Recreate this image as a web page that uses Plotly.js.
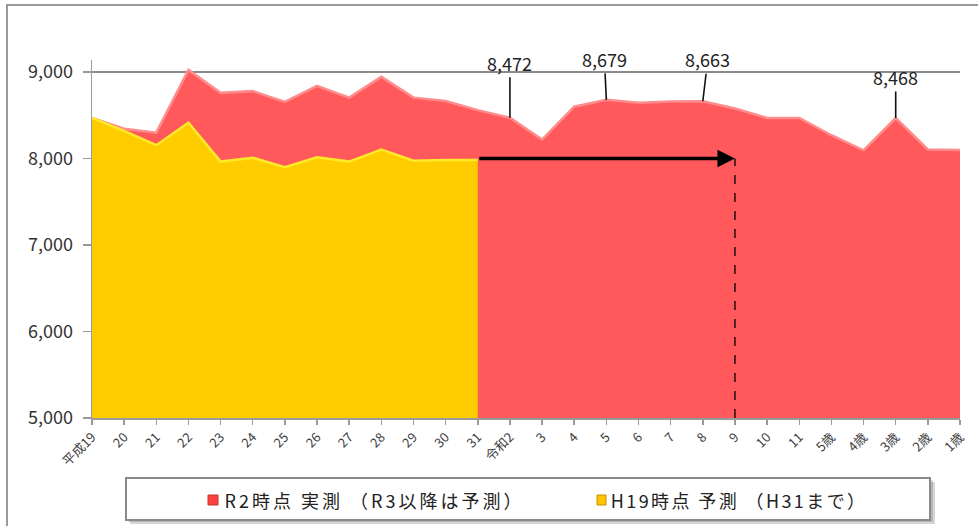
<!DOCTYPE html>
<html>
<head>
<meta charset="utf-8">
<script src="https://cdn.plot.ly/plotly-3.0.1.min.js"></script>
<style>
html,body{margin:0;padding:0;background:#fff;}
#wrap{position:relative;width:978px;height:526px;overflow:hidden;}
#chart{width:978px;height:526px;}
#frame{position:absolute;left:6px;top:4px;width:990px;height:540px;border-left:2px solid #9a9a9a;border-top:2px solid #9a9a9a;pointer-events:none;}
g.annotation[data-index="5"] text{letter-spacing:3px;}
g.annotation[data-index="6"] text{letter-spacing:2.4px;}
</style>
</head>
<body>
<div id="wrap"><div id="chart"></div><div id="frame"></div></div>
<script>
// ---- data ----
const categories = ["平成19","20","21","22","23","24","25","26","27","28","29","30","31",
  "令和2","3","4","5","6","7","8","9","10","11","5歳","4歳","3歳","2歳","1歳"];
const actualR2 = [8470,8345,8300,9025,8760,8780,8655,8840,8705,8945,8705,8665,8560,
  8472,8220,8600,8679,8645,8660,8663,8580,8470,8470,8270,8095,8468,8105,8100];
const forecastH19Cats = ["平成19","20","21","22","23","24","25","26","27","28","29","30","31"];
const forecastH19 = [8470,8320,8155,8415,7965,8010,7900,8015,7965,8105,7975,7985,7985];
const seriesNames = ["R2時点 実測\u00a0（R3以降は予測）","H19時点 予測\u00a0（H31まで）"];
const labelledCats = ["令和2","5","8","3歳"];
const yTicks = [5000,6000,7000,8000,9000];
const arrowFrom = "31", arrowTo = "9", arrowLevel = 8000;

// ---- layout helpers ----
const W = 978, H = 526, L = 92, R = 18, T = 60, B = 108;
const px2x = p => (p - L) / (W - L - R);
const px2y = p => (H - B - p) / (H - T - B);
const idx = c => categories.indexOf(c);

const RED = "#FF595B", RED_EDGE = "#FF8C8C";
const YEL = "#FFCC00", YEL_EDGE = "#FFEA2A";
const font = "'Noto Sans CJK JP','Noto Sans',sans-serif";

const traces = [
  {x: categories, y: actualR2, type: "scatter", mode: "lines", fill: "tozeroy",
   fillcolor: RED, line: {color: RED_EDGE, width: 2.5}, name: seriesNames[0],
   showlegend: false, hoverinfo: "skip"},
  {x: forecastH19Cats, y: forecastH19, type: "scatter", mode: "lines", fill: "tozeroy",
   fillcolor: YEL, line: {color: YEL_EDGE, width: 2.5}, name: seriesNames[1],
   showlegend: false, hoverinfo: "skip"}
];

// value labels with leader lines (x given as category index: labels like "5" would be read as indices)
const labelOffsets = {"令和2": [0,-55], "5": [-2,-41], "8": [5,-42], "3歳": [0,-41]};
const annotations = labelledCats.map(c => {
  const i = idx(c);
  const v = actualR2[i];
  return {x: i, y: v, xref: "x", yref: "y", text: v.toLocaleString("en-US"),
    showarrow: true, arrowhead: 0, arrowwidth: 1.6, arrowcolor: "#111",
    ax: labelOffsets[c][0], ay: labelOffsets[c][1], standoff: 0,
    font: {family: font, size: 18, color: "#222"}};
});

// horizontal arrow (index 4)
annotations.push({x: idx(arrowTo), y: arrowLevel, xref: "x", yref: "y",
  ax: idx(arrowFrom), ay: arrowLevel, axref: "x", ayref: "y", text: "",
  showarrow: true, arrowhead: 2, arrowsize: 1, arrowwidth: 3.5, arrowcolor: "#000", standoff: 0});

// custom legend text (index 5, 6)
annotations.push({xref: "paper", yref: "paper", x: px2x(374), y: px2y(500), xanchor: "center", yanchor: "middle",
  text: seriesNames[0], showarrow: false, font: {family: font, size: 18, color: "#222"}});
annotations.push({xref: "paper", yref: "paper", x: px2x(739), y: px2y(500), xanchor: "center", yanchor: "middle",
  text: seriesNames[1], showarrow: false, font: {family: font, size: 18, color: "#222"}});

const shapes = [
  // dashed drop line
  {type: "line", xref: "x", yref: "y", x0: idx(arrowTo), x1: idx(arrowTo), y0: 5000, y1: arrowLevel,
   line: {color: "#000", width: 1.3, dash: "dash"}},
  // legend shadow
  {type: "rect", xref: "paper", yref: "paper", x0: px2x(130), x1: px2x(935), y0: px2y(482), y1: px2y(524),
   line: {width: 0}, fillcolor: "rgba(0,0,0,0.16)", layer: "above"},
  {type: "rect", xref: "paper", yref: "paper", x0: px2x(128), x1: px2x(933), y0: px2y(480), y1: px2y(522),
   line: {width: 0}, fillcolor: "rgba(0,0,0,0.14)", layer: "above"},
  // legend box
  {type: "rect", xref: "paper", yref: "paper", x0: px2x(126), x1: px2x(930), y0: px2y(478), y1: px2y(520),
   line: {color: "#8a8a8a", width: 2}, fillcolor: "#fff", layer: "above"},
  // legend markers
  {type: "rect", xref: "paper", yref: "paper", x0: px2x(208), x1: px2x(218), y0: px2y(495), y1: px2y(505),
   line: {color: "#C0392B", width: 1}, fillcolor: "#FF4040", layer: "above"},
  {type: "rect", xref: "paper", yref: "paper", x0: px2x(597), x1: px2x(606), y0: px2y(495), y1: px2y(505),
   line: {color: "#C89200", width: 1}, fillcolor: "#FFC400", layer: "above"}
];

const layout = {
  width: W, height: H,
  margin: {l: L, r: R, t: T, b: B, pad: 0},
  paper_bgcolor: "#fff", plot_bgcolor: "#fff",
  showlegend: false,
  font: {family: font, color: "#333"},
  xaxis: {type: "category", categoryarray: categories, categoryorder: "array",
    range: [0, categories.length - 1], tickangle: -45,
    tickfont: {family: font, size: 13, color: "#404040"},
    showline: true, linecolor: "#9a9a9a", linewidth: 1.5,
    ticks: "outside", ticklen: 5, tickcolor: "#9a9a9a", tickwidth: 1.5,
    showgrid: false, zeroline: false, fixedrange: true},
  yaxis: {range: [5000, 9140], tickvals: yTicks, ticktext: yTicks.map(v => v.toLocaleString("en-US")),
    tickfont: {family: font, size: 18, color: "#333"},
    showline: true, linecolor: "#9a9a9a", linewidth: 1.5,
    ticks: "outside", ticklen: 8, tickcolor: "#9a9a9a", tickwidth: 1.5, ticklabelstandoff: 6,
    showgrid: true, gridcolor: "#8a8a8a", gridwidth: 1.5, zeroline: false, fixedrange: true},
  annotations: annotations,
  shapes: shapes
};

Plotly.newPlot("chart", traces, layout, {displayModeBar: false, staticPlot: true});
</script>
</body>
</html>
